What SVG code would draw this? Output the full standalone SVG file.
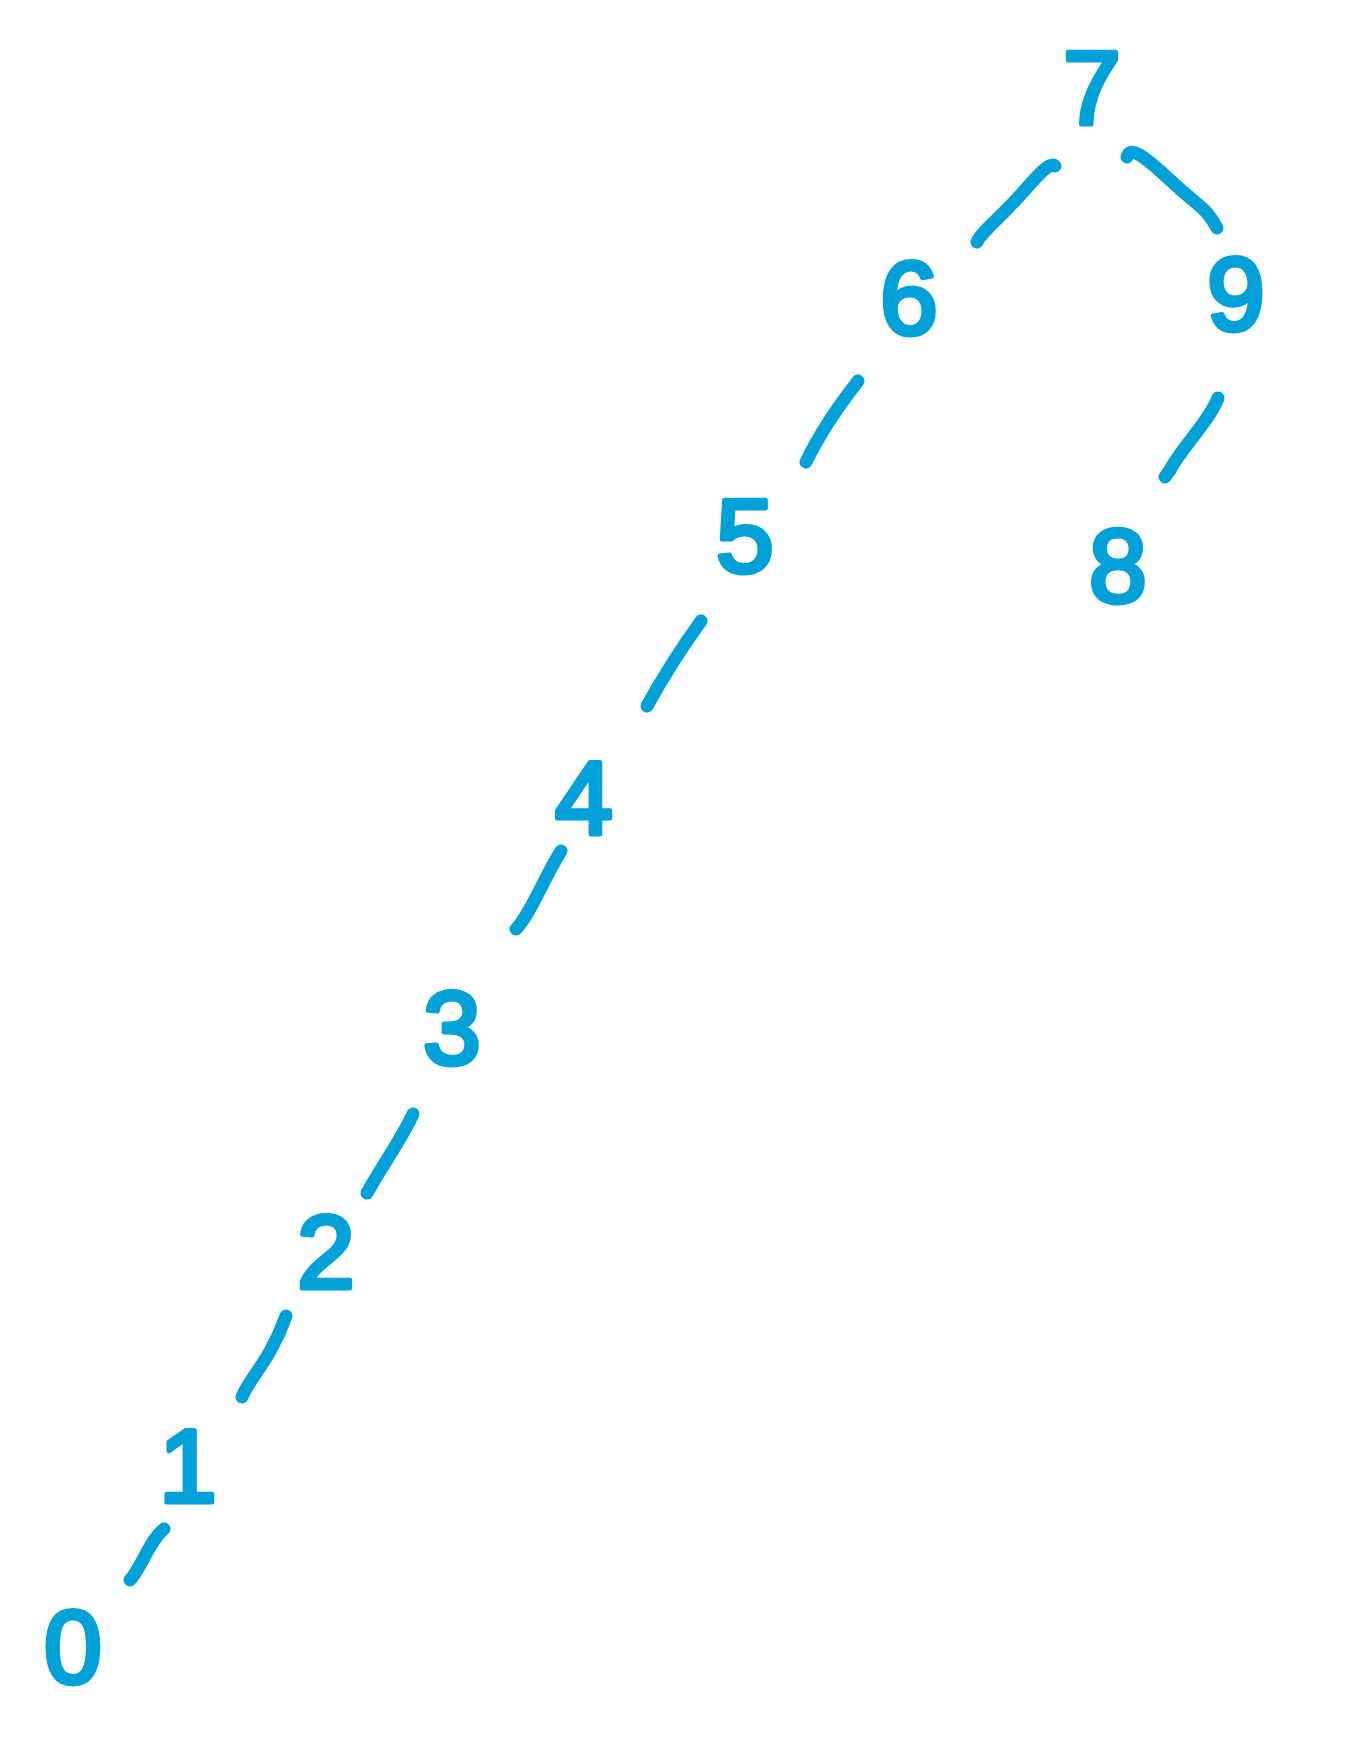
<svg xmlns="http://www.w3.org/2000/svg" width="1348" height="1756" viewBox="0 0 1348 1756">
<style>
.bg{fill:#ffffff}
.n text{font-family:"Liberation Sans","DejaVu Sans",sans-serif;font-size:104px;fill:#00a0d8;stroke:#00a0d8;stroke-width:5;stroke-linejoin:round;text-anchor:middle}
.e path{fill:none;stroke:#00a0d8;stroke-width:13;stroke-linecap:round;stroke-linejoin:round}
</style>
<rect class="bg" x="0" y="0" width="1348" height="1756"/>
<g id="connectors" class="e">
<path d="M1055,166 C1048,160 1030,186 1010,206 C995,222 980,234 977,242"/>
<path d="M1127,157 C1130,147 1140,152 1170,180 C1200,208 1205,206 1217,228"/>
<path d="M1218,398 C1210,420 1180,450 1170,470 L1165,477"/>
<path d="M858,381 C840,404 820,433 806,462"/>
<path d="M701,621 C680,650 662,679 647,706"/>
<path d="M561,851 C545,876 530,915 516,929"/>
<path d="M413,1114 C400,1142 383,1164 367,1193"/>
<path d="M286,1316 C270,1361 250,1377 242,1397"/>
<path d="M164,1529 C150,1540 140,1570 130,1580"/>
</g>
<g id="node-7" class="n"><text x="1092" y="124">7</text></g>
<g id="node-6" class="n"><text x="909" y="334">6</text></g>
<g id="node-9" class="n"><text x="1236" y="330">9</text></g>
<g id="node-8" class="n"><text x="1118" y="602">8</text></g>
<g id="node-5" class="n"><text x="745" y="572">5</text></g>
<g id="node-4" class="n"><text x="584" y="834">4</text></g>
<g id="node-3" class="n"><text x="452" y="1064">3</text></g>
<g id="node-2" class="n"><text x="326" y="1288">2</text></g>
<g id="node-1" class="n"><text x="188" y="1502">1</text></g>
<g id="node-0" class="n"><text x="73" y="1683">0</text></g>
</svg>
